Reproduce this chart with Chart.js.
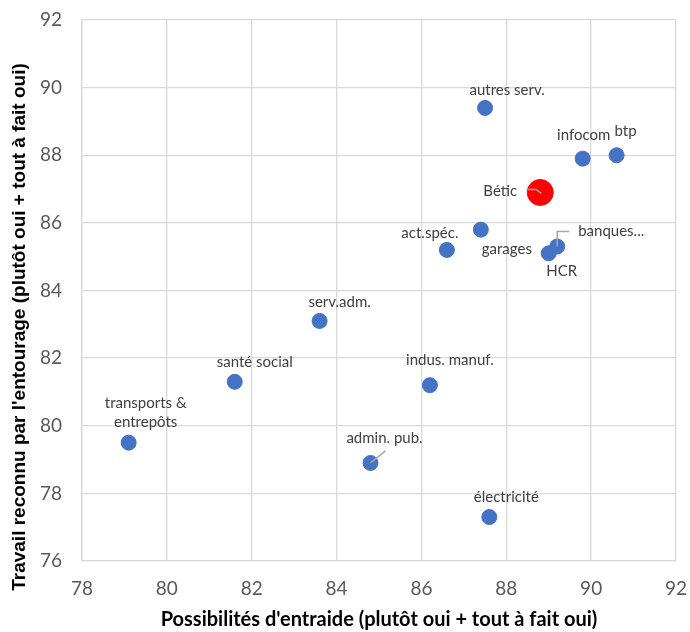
<!DOCTYPE html>
<html>
<head>
<meta charset="utf-8">
<script src="https://cdn.jsdelivr.net/npm/chart.js@4/dist/chart.umd.min.js"></script>
<style>
  html, body { margin: 0; padding: 0; background: #ffffff; }
  #wrap { width: 690px; height: 632px; }
</style>
</head>
<body>
<div id="wrap"><canvas id="chart" width="690" height="632"></canvas></div>
<script>
// Secteurs : possibilités d'entraide (x) et travail reconnu par l'entourage (y), en %
const sectors = [
  'transports &\nentrepôts', 'santé social', 'serv.adm.', 'admin. pub.',
  'indus. manuf.', 'act.spéc.', 'garages', 'électricité', 'autres serv.',
  'HCR', 'banques...', 'infocom', 'btp'
];
const entraide = [79.1, 81.6, 83.6, 84.8, 86.2, 86.6, 87.4, 87.6, 87.5, 89.0, 89.2, 89.8, 90.6];
const reconnu  = [79.5, 81.3, 83.1, 78.9, 81.2, 85.2, 85.8, 77.3, 89.4, 85.1, 85.3, 87.9, 88.0];

// Entreprise mise en avant
const focusNames = ['Bétic'];
const focusEntraide = [88.8];
const focusReconnu = [86.9];

// Axes
const xTicks = [78, 80, 82, 84, 86, 88, 90, 92];
const yTicks = [76, 78, 80, 82, 84, 86, 88, 90, 92];
const xTitle = "Possibilités d'entraide (plutôt oui + tout à fait oui)";
const yTitle = "Travail reconnu par l'entourage (plutôt oui + tout à fait oui)";

const BODY_FONT = "Lato, 'Open Sans', sans-serif";

// Placement of each data label relative to its point (pixels), plus optional leader lines
const labelPlacement = {
  'transports &\nentrepôts': { dx: 17, dy: -30 },
  'santé social': { dx: 20, dy: -20 },
  'serv.adm.': { dx: 20, dy: -19 },
  'admin. pub.': { dx: 14, dy: -25, leader: [[0, 0], [15, -12]] },
  'indus. manuf.': { dx: 20, dy: -25 },
  'act.spéc.': { dx: -17, dy: -17 },
  'garages': { dx: 26, dy: 20 },
  'électricité': { dx: 17, dy: -20 },
  'autres serv.': { dx: 22, dy: -18 },
  'HCR': { dx: 13, dy: 18 },
  'banques...': { dx: 21, dy: -15, align: 'left', leader: [[0, 0], [0, -15], [12, -15]] },
  'infocom': { dx: 1, dy: -23 },
  'btp': { dx: 9, dy: -24 },
  'Bétic': { dx: -23, dy: -1, align: 'right', leader: [[1, 1], [-4, -3], [-14, -3]] }
};

const dataLabels = {
  id: 'dataLabels',
  afterDatasetsDraw(chart) {
    const ctx = chart.ctx;
    ctx.save();
    chart.data.datasets.forEach((ds, di) => {
      const meta = chart.getDatasetMeta(di);
      meta.data.forEach((pt, i) => {
        const name = ds.names[i];
        const p = labelPlacement[name] || { dx: 0, dy: -20 };
        if (p.leader) {
          ctx.strokeStyle = '#A6A6A6';
          ctx.lineWidth = 1.5;
          ctx.beginPath();
          p.leader.forEach(([lx, ly], k) => {
            if (k === 0) ctx.moveTo(pt.x + lx, pt.y + ly);
            else ctx.lineTo(pt.x + lx, pt.y + ly);
          });
          ctx.stroke();
        }
        ctx.fillStyle = '#404040';
        ctx.font = '15px ' + BODY_FONT;
        ctx.textAlign = p.align || 'center';
        ctx.textBaseline = 'middle';
        const lines = name.split('\n');
        const lh = 19;
        lines.forEach((line, k) => {
          const y = pt.y + p.dy + (k - (lines.length - 1) / 2) * lh;
          ctx.fillText(line, pt.x + p.dx, y);
        });
      });
    });
    ctx.restore();
  }
};

const axisTitles = {
  id: 'axisTitles',
  afterDraw(chart) {
    const ctx = chart.ctx;
    const area = chart.chartArea;
    ctx.save();
    ctx.fillStyle = '#000000';
    ctx.textAlign = 'center';
    ctx.textBaseline = 'middle';
    ctx.font = 'bold 20px ' + BODY_FONT;
    ctx.fillText(xTitle, (area.left + area.right) / 2, 620);
    ctx.translate(20, 327);
    ctx.rotate(-Math.PI / 2);
    ctx.font = "bold 19px 'Liberation Sans', Arial, sans-serif";
    ctx.fillText(yTitle, 0, 0);
    ctx.restore();
  }
};

const gridColor = '#D9D9D9';

function noScalePadding(scale) {
  scale.paddingLeft = 0;
  scale.paddingRight = 0;
  scale.paddingTop = 0;
  scale.paddingBottom = 0;
}

new Chart(document.getElementById('chart'), {
  type: 'scatter',
  data: {
    datasets: [
      {
        names: focusNames,
        data: focusEntraide.map((x, i) => ({ x, y: focusReconnu[i] })),
        backgroundColor: '#FF0000',
        borderColor: '#FF0000',
        pointRadius: 13,
        order: 0
      },
      {
        names: sectors,
        data: entraide.map((x, i) => ({ x, y: reconnu[i] })),
        backgroundColor: '#4472C4',
        borderColor: '#4472C4',
        pointRadius: 7.5,
        order: 1
      }
    ]
  },
  options: {
    responsive: false,
    animation: false,
    devicePixelRatio: 1,
    layout: { padding: { top: 20, right: 10, left: 0, bottom: 0 } },
    plugins: {
      legend: { display: false },
      tooltip: { enabled: false }
    },
    scales: {
      x: {
        type: 'linear',
        min: xTicks[0],
        max: xTicks[xTicks.length - 1],
        afterBuildTicks(scale) { scale.ticks = xTicks.map(v => ({ value: v })); },
        afterFit(scale) { scale.height = 71; noScalePadding(scale); },
        ticks: { color: '#595959', font: { family: BODY_FONT, size: 19 }, padding: 16 },
        grid: { color: gridColor, lineWidth: 1.3, drawTicks: false },
        border: { display: true, color: gridColor, width: 1.3 }
      },
      y: {
        type: 'linear',
        min: yTicks[0],
        max: yTicks[yTicks.length - 1],
        afterBuildTicks(scale) { scale.ticks = yTicks.map(v => ({ value: v })); },
        afterFit(scale) { scale.width = 82; noScalePadding(scale); },
        ticks: { color: '#595959', font: { family: BODY_FONT, size: 19 }, padding: 20 },
        grid: { color: gridColor, lineWidth: 1.3, drawTicks: false },
        border: { display: true, color: gridColor, width: 1.3 }
      }
    }
  },
  plugins: [dataLabels, axisTitles]
});
</script>
</body>
</html>
